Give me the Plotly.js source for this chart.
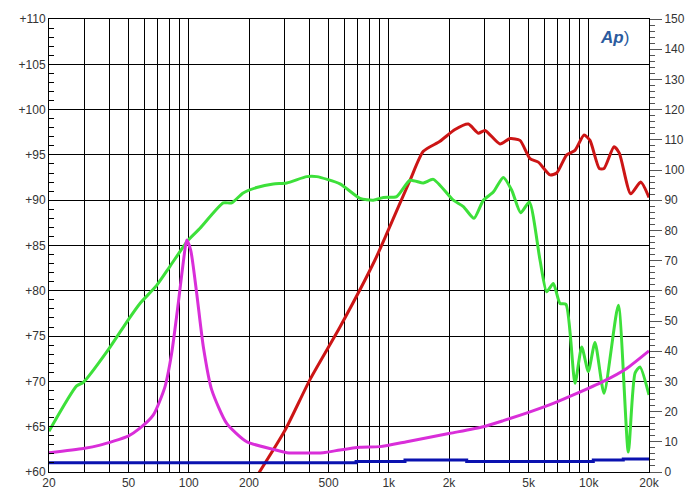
<!DOCTYPE html>
<html>
<head>
<meta charset="utf-8">
<script src="https://cdn.plot.ly/plotly-3.0.1.min.js"></script>
<style>
  html, body { margin: 0; padding: 0; background: #fff; }
  #chart { width: 686px; height: 498px; }
</style>
</head>
<body>
<div id="chart"></div>
<script>
// frequency grid + labels
const gridFreqs = [20, 30, 40, 50, 60, 70, 80, 90, 100, 200, 300, 400, 500, 600, 700, 800, 900,
  1000, 2000, 3000, 4000, 5000, 6000, 7000, 8000, 9000, 10000, 20000];
const labelFreqs = { 20: '20', 50: '50', 100: '100', 200: '200', 500: '500',
  1000: '1k', 2000: '2k', 5000: '5k', 10000: '10k', 20000: '20k' };

// green SPL curve (dB, left axis)
const greenHz = [20, 27.5, 29.7, 39.6, 49.8, 57, 69.1, 80.5, 99.4, 113.8, 148.8, 163.9, 187, 218.5,
  264.6, 308.8, 388.7, 436, 570, 718, 837, 939, 1095, 1277, 1488, 1669, 2102, 2359, 2667, 2970,
  3332, 3738, 4118, 4566, 5042, 5702, 6158, 6646, 7178, 7691, 8531, 9216, 9944, 10740, 11914,
  14046, 15760, 17022, 18032, 20000];
const greenDb = [64.5, 69.5, 69.9, 73.5, 76.8, 78.6, 80.6, 82.7, 85.6, 86.9, 89.7, 89.7, 90.8, 91.4,
  91.8, 91.9, 92.6, 92.6, 91.8, 90.2, 90.0, 90.3, 90.4, 92.2, 91.9, 92.3, 90.0, 89.3, 88.0, 90.0,
  90.9, 92.5, 91.1, 88.6, 89.8, 83.4, 79.9, 80.8, 78.6, 78.5, 69.8, 73.8, 71.1, 74.3, 68.7,
  78.4, 62.2, 70.9, 71.6, 68.5];

// red SPL curve (dB, left axis)
const redHz = [222.7, 302.7, 403.6, 570, 853, 994, 1277, 1488, 1803, 2143, 2498, 2803, 3027, 3598,
  4036, 4529, 5082, 5592, 6397, 6912, 7755, 8531, 9464, 10140, 11286, 11914, 13366, 14210, 16200,
  18178, 20000];
const redDb = [59.8, 64.6, 70.2, 76.0, 83.4, 86.7, 92.2, 95.4, 96.5, 97.8, 98.4, 97.4, 97.7, 96.2,
  96.8, 96.6, 94.6, 94.2, 92.8, 93.0, 95.0, 95.5, 97.2, 96.6, 93.5, 93.5, 95.9, 95.2, 90.7,
  92.0, 90.3];

// magenta impedance curve (right axis)
const magHz = [20, 29.7, 36, 49.8, 57, 66.5, 76, 82.1, 88.6, 94.6, 97.6, 102.2, 109.5, 118.2, 130.2,
  154.7, 194.8, 264.6, 308.8, 470, 570, 718, 904, 1229, 2023, 2970, 3738, 5082, 6646, 8366,
  11818, 15470, 20000];
const magOhm = [6.4, 7.8, 8.9, 11.9, 14.5, 18.9, 28.2, 39.3, 55.9, 71.3, 76.8, 73.5, 59.2, 41.5, 27.2,
  16.1, 10.0, 7.5, 6.4, 6.4, 7.3, 8.2, 8.4, 10.0, 12.8, 15.0, 17.0, 19.9, 22.7, 25.5,
  30.0, 34.3, 40.1];

// blue curve (right axis)
const blueHz = [20, 686, 1205, 2452, 10532, 14872, 20000];
const blueVal = [3.1, 3.5, 4.0, 3.5, 4.0, 4.3, 4.3];

const leftTicks = [60, 65, 70, 75, 80, 85, 90, 95, 100, 105, 110];
const rightTicks = [0, 10, 20, 30, 40, 50, 60, 70, 80, 90, 100, 110, 120, 130, 140, 150];

const tickFont = { family: 'Liberation Sans, Arial, sans-serif', size: 12, color: '#333' };

const traces = [
  { x: magHz, y: magOhm, yaxis: 'y2', type: 'scatter', mode: 'lines',
    line: { color: '#d92ed9', width: 3, shape: 'spline', smoothing: 0.6 } },
  { x: blueHz, y: blueVal, yaxis: 'y2', type: 'scatter', mode: 'lines',
    line: { color: '#0a12b0', width: 3, shape: 'hv' } },
  { x: redHz, y: redDb, type: 'scatter', mode: 'lines',
    line: { color: '#cc1515', width: 3, shape: 'spline', smoothing: 0.6 } },
  { x: greenHz, y: greenDb, type: 'scatter', mode: 'lines',
    line: { color: '#3de03a', width: 3, shape: 'spline', smoothing: 0.6 } }
];

const layout = {
  width: 686, height: 498,
  margin: { l: 49, r: 37, t: 19, b: 26 },
  paper_bgcolor: '#fff', plot_bgcolor: '#fff',
  showlegend: false,
  xaxis: {
    type: 'log',
    range: [Math.log10(20), Math.log10(20000)],
    tickvals: gridFreqs,
    ticktext: gridFreqs.map(f => labelFreqs[f] || ''),
    showgrid: true, gridcolor: '#000', gridwidth: 1,
    showline: true, linecolor: '#000', linewidth: 1, mirror: true,
    ticks: '', tickfont: tickFont, zeroline: false
  },
  yaxis: {
    range: [60, 110],
    tickvals: leftTicks,
    ticktext: leftTicks.map(v => '+' + v),
    showgrid: true, gridcolor: '#000', gridwidth: 1,
    showline: true, linecolor: '#000', linewidth: 1,
    ticks: 'inside', ticklen: 5, tickcolor: '#000',
    minor: { dtick: 1, ticks: 'inside', ticklen: 5, tickcolor: '#000', showgrid: false },
    tickfont: tickFont, zeroline: false
  },
  yaxis2: {
    overlaying: 'y', side: 'right',
    range: [0, 150],
    tickvals: rightTicks,
    showgrid: false,
    showline: true, linecolor: '#000', linewidth: 1,
    ticks: 'outside', ticklen: 12, tickcolor: '#555',
    minor: { dtick: 2, ticks: 'outside', ticklen: 5, tickcolor: '#555' },
    tickfont: tickFont, zeroline: false
  },
  annotations: [{
    xref: 'paper', yref: 'paper', x: 0.97, y: 0.985, xanchor: 'right', yanchor: 'top',
    text: '<i><b>Ap</b></i>)', showarrow: false,
    font: { family: 'Liberation Sans, Arial, sans-serif', size: 17, color: '#2b5b9e' }
  }]
};

Plotly.newPlot('chart', traces, layout, { displayModeBar: false, staticPlot: true });
</script>
</body>
</html>
